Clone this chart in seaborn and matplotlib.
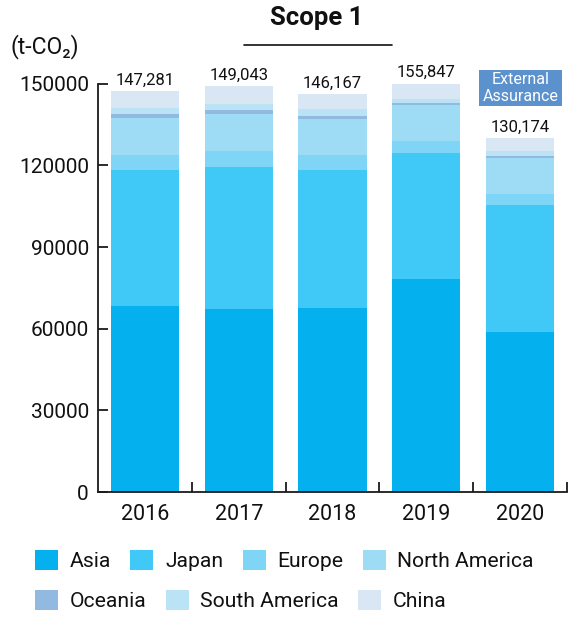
import matplotlib
matplotlib.use("Agg")
import matplotlib.pyplot as plt
from matplotlib.patches import Patch, Rectangle
from matplotlib.lines import Line2D
from matplotlib.ticker import FuncFormatter, FixedLocator
import seaborn as sns
import pandas as pd
import numpy as np

# ---------------- data ----------------
years = ["2016", "2017", "2018", "2019", "2020"]
regions = ["Asia", "Japan", "Europe", "North America", "Oceania", "South America", "China"]
asia = [68300, 67300, 67600, 78300, 58800]
japan = [50000, 52100, 50700, 46200, 46600]
europe = [5500, 5900, 5500, 4500, 4100]
north_america = [13500, 13600, 13200, 13200, 13200]
oceania = [1600, 1400, 1100, 700, 700]
south_america = [2200, 2200, 2600, 1500, 1900]
china = [6200, 6500, 5500, 5900, 4900]
total_labels = ["147,281", "149,043", "146,167", "155,847", "130,174"]
y_ticks = [0, 30000, 60000, 90000, 120000, 150000]

colors = ["#05b0ef", "#40c8f7", "#7ed5f6", "#9edbf5", "#92b9e0", "#bae3f6", "#d9e7f5"]

series = [asia, japan, europe, north_america, oceania, south_america, china]
cum = np.cumsum(np.array(series), axis=0)

# ---------------- figure ----------------
sns.set_style("white")
plt.rcParams["font.family"] = ["Roboto", "DejaVu Sans"]

W, H = 575, 618
fig = plt.figure(figsize=(W / 100, H / 100), dpi=100)

def fx(px):
    return px / W

def fy(py):
    return 1 - py / H

ax_left, ax_right, ax_top, ax_bottom = 98, 567, 83.7, 492
ax = fig.add_axes([fx(ax_left), fy(ax_bottom), fx(ax_right - ax_left), (ax_bottom - ax_top) / H])

for k in range(len(regions) - 1, -1, -1):
    d = pd.DataFrame({"year": years, "value": cum[k]})
    sns.barplot(data=d, x="year", y="value", order=years, color=colors[k],
                saturation=1, width=0.725, linewidth=0, ax=ax)

ax.set_xlim(-0.5, 4.5)
ax.set_ylim(0, 150000)
ax.set_xlabel("")
ax.set_ylabel("")
ax.set_yticks(y_ticks)
ax.yaxis.set_major_formatter(FuncFormatter(lambda v, p: f"{int(v)}"))

for s in ["top", "right"]:
    ax.spines[s].set_visible(False)
for s in ["left", "bottom"]:
    ax.spines[s].set_linewidth(1.3)
    ax.spines[s].set_color("#1a1a1a")

ax.tick_params(axis="y", direction="in", length=7.5, width=1.3, color="#1a1a1a",
               labelsize=15, pad=6.5, left=True)
ax.tick_params(axis="x", which="major", length=0, labelsize=15.5, pad=9)
ax.xaxis.set_minor_locator(FixedLocator([0.5, 1.5, 2.5, 3.5, 4.5]))
ax.tick_params(axis="x", which="minor", direction="in", length=7, width=1.3,
               color="#1a1a1a", bottom=True)
for lbl in ax.get_xticklabels() + ax.get_yticklabels():
    lbl.set_color("#111111")

# value labels
tops = cum[-1]
for i, (t, lab) in enumerate(zip(tops, total_labels)):
    ax.annotate(lab, (i, t), xytext=(0, 4.5), textcoords="offset points",
                ha="center", va="baseline", fontsize=12, color="#111111",
                annotation_clip=False)

# title and underline
fig.text(fx(317), fy(18), "Scope 1", ha="center", va="center",
         fontsize=18.5, fontweight="bold", color="#111111")
fig.add_artist(Line2D([fx(244), fx(392)], [fy(44.5), fy(44.5)],
                      transform=fig.transFigure, color="#111111", lw=1.2))
fig.text(fx(10), fy(47), "(t-CO\u2082)", ha="left", va="center",
         fontsize=16.5, color="#111111")

# External Assurance box
fig.add_artist(Rectangle((fx(479), fy(106)), fx(562 - 479), (106 - 70) / H,
                         transform=fig.transFigure, facecolor="#5b91cc",
                         edgecolor="none"))
fig.text(fx(520.5), fy(80), "External", ha="center", va="center",
         fontsize=11.5, color="white")
fig.text(fx(520.5), fy(96.5), "Assurance", ha="center", va="center",
         fontsize=11.5, color="white")

# legends
def make_legend(idx, ypx):
    handles = [Patch(facecolor=colors[k], edgecolor="none", label=regions[k]) for k in idx]
    leg = fig.legend(handles=handles, loc="center left",
                     bbox_to_anchor=(fx(35), fy(ypx)), bbox_transform=fig.transFigure,
                     ncol=len(handles), frameon=False, fontsize=15.2,
                     handlelength=1.09, handleheight=1.09, handletextpad=0.55,
                     columnspacing=0.92, borderpad=0, borderaxespad=0)
    for t in leg.get_texts():
        t.set_color("#111111")
    return leg

make_legend([0, 1, 2, 3], 560.5)
make_legend([4, 5, 6], 600.5)

fig.savefig("out.png", dpi=100)
